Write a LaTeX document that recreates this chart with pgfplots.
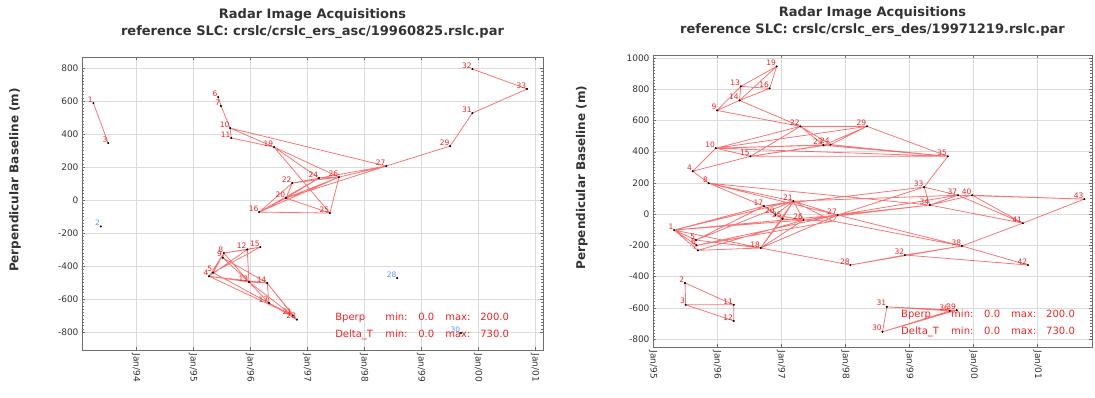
\documentclass[border=0pt]{standalone}
\usepackage{fontspec}
\setmainfont{DejaVu Sans}
\usepackage{pgfplots}
\pgfplotsset{compat=1.18}
\usepackage{pgfplotstable}

\definecolor{edgered}{RGB}{245,60,60}
\definecolor{labred}{RGB}{235,35,35}
\definecolor{axgray}{RGB}{110,110,110}
\definecolor{labblue}{RGB}{90,150,230}

\tikzset{info/.style={anchor=west, text=labred, font=\fontsize{10}{11}\selectfont, inner sep=0pt}}
\pgfplotsset{
  radar/.style={
    scale only axis,
    anchor=south west,
    axis line style={axgray},
    tick style={axgray},
    grid=major,
    grid style={gray!28, line width=0.5pt},
    minor x tick num=3,
    minor y tick num=9,
    tick align=inside,
    major tick length=3pt, minor tick length=1.6pt,
    ticklabel style={font=\fontsize{9}{10}\selectfont, text=black!80},
    /pgf/number format/assume math mode=true,
    /pgf/number format/1000 sep={},
    xticklabel style={rotate=-90, anchor=west},
    ylabel={Perpendicular Baseline (m)},
    ylabel style={font=\fontsize{12}{13}\selectfont\bfseries, text=black!80, anchor=center},
    title style={font=\fontsize{13}{16.5}\selectfont\bfseries, text=black!80, align=center, at={(0.5,1)}, anchor=south, yshift=9pt},
    unbounded coords=jump,
  },
  edge/.style={edgered, opacity=0.7, line width=0.8pt, forget plot},
  pts/.style={only marks, mark=*, mark size=0.8pt, black, forget plot,
    nodes near coords, point meta=explicit symbolic,
    nodes near coords style={text=labred, font=\fontsize{7.5}{8}\selectfont, anchor=south east, inner sep=0.6pt}},
  bpts/.style={pts, nodes near coords style={text=labblue}},
}
\newcommand{\infoline}[2]{\makebox[50pt][l]{#1}\makebox[33pt][l]{min:}\makebox[27pt][l]{0.0}\makebox[35pt][l]{max:}#2}

\begin{document}
\begin{tikzpicture}
\useasboundingbox (0pt,0pt) rectangle (1095pt,398pt);
% ---------------- left panel ----------------
\begin{axis}[radar, at={(82pt,48pt)}, width=461pt, height=293pt,
  xmin=1993.05, xmax=2001.14, ymin=-909, ymax=867,
  xtick={1994,1995,...,2001},
  xticklabels={Jan/94,Jan/95,Jan/96,Jan/97,Jan/98,Jan/99,Jan/00,Jan/01},
  ytick={-800,-600,...,800},
  ylabel style={at={(rel axis cs:-0.145,0.58)}},
  title={Radar Image Acquisitions\\reference SLC: crslc/crslc\_ers\_asc/19960825.rslc.par}]
\addplot[edge] coordinates {
(1993.25,588)(1993.51,345)(0,nan)
(1995.44,624)(1995.49,570)(1995.65,436)(1995.67,376)(0,nan)
(1995.65,436)(1996.42,321)(0,nan)
(1995.67,376)(1996.42,321)(0,nan)
(1995.65,436)(1998.39,206)(0,nan)
(1996.42,321)(1997.40,-79)(0,nan)
(1996.42,321)(1997.56,139)(0,nan)
(1996.42,321)(1997.21,133)(0,nan)
(1996.16,-73)(1996.74,103)(0,nan)
(1996.16,-73)(1996.63,12)(0,nan)
(1996.16,-73)(1997.21,133)(0,nan)
(1996.16,-73)(1997.56,139)(0,nan)
(1996.16,-73)(1997.40,-79)(0,nan)
(1996.63,12)(1996.74,103)(0,nan)
(1996.63,12)(1997.21,133)(0,nan)
(1996.63,12)(1997.56,139)(0,nan)
(1996.63,12)(1997.40,-79)(0,nan)
(1996.63,12)(1998.39,206)(0,nan)
(1996.74,103)(1997.21,133)(0,nan)
(1996.74,103)(1997.56,139)(0,nan)
(1997.21,133)(1997.56,139)(0,nan)
(1997.21,133)(1998.39,206)(0,nan)
(1997.56,139)(1998.39,206)(0,nan)
(1997.40,-79)(1997.56,139)(0,nan)
(1998.39,206)(1999.51,327)(1999.90,527)(2000.86,673)(1999.90,794)(0,nan)
(1995.28,-462)(1995.35,-440)(0,nan)
(1995.28,-462)(1995.54,-321)(0,nan)
(1995.35,-440)(1995.54,-321)(0,nan)
(1995.28,-462)(1995.95,-300)(0,nan)
(1995.35,-440)(1996.18,-285)(0,nan)
(1995.54,-321)(1995.95,-300)(0,nan)
(1995.54,-321)(1996.18,-285)(0,nan)
(1995.95,-300)(1996.18,-285)(0,nan)
(1995.28,-462)(1995.98,-497)(0,nan)
(1995.28,-462)(1996.30,-503)(0,nan)
(1995.35,-440)(1996.33,-624)(0,nan)
(1995.28,-462)(1996.75,-700)(0,nan)
(1995.54,-321)(1995.98,-497)(0,nan)
(1995.52,-350)(1996.30,-503)(0,nan)
(1995.98,-497)(1996.30,-503)(0,nan)
(1995.98,-497)(1996.33,-624)(0,nan)
(1995.98,-497)(1996.75,-700)(0,nan)
(1995.95,-300)(1995.98,-497)(0,nan)
(1996.30,-503)(1996.33,-624)(0,nan)
(1996.30,-503)(1996.75,-700)(0,nan)
(1996.33,-624)(1996.75,-700)(0,nan)
(1996.33,-624)(1996.82,-725)(0,nan)
(1996.75,-700)(1996.82,-725)(0,nan)
(1996.30,-503)(1996.82,-725)(0,nan)
(1995.52,-350)(1995.98,-497)(0,nan)
(1995.54,-321)(1995.52,-350)(0,nan)
};
\addplot[pts] table[meta=lab] {
x y lab
1993.25 588 1
1993.51 345 3
1995.44 624 6
1995.49 570 7
1995.65 436 10
1995.67 376 11
1996.42 321 19
1996.16 -73 16
1996.63 12 20
1996.74 103 22
1997.21 133 24
1997.56 139 26
1997.40 -79 25
1998.39 206 27
1999.51 327 29
1999.90 527 31
1999.90 794 32
2000.86 673 33
1995.28 -462 4
1995.35 -440 5
1995.54 -321 8
1995.52 -350 9
1995.95 -300 12
1996.18 -285 15
1995.98 -497 13
1996.30 -503 14
1996.33 -624 17
1996.75 -700 21
1996.82 -725 23
};
\addplot[bpts] table[meta=lab] {
x y lab
1993.38 -160 2
1998.58 -473 28
1999.70 -806 30
};
\node[info] at (rel axis cs:0.549,0.109) {\infoline{Bperp}{200.0}};
\node[info] at (rel axis cs:0.549,0.051) {\infoline{Delta\_T}{730.0}};
\end{axis}
% ---------------- right panel ----------------
\begin{axis}[radar, at={(653pt,51pt)}, width=439pt, height=292pt,
  xmin=1995.0, xmax=2001.85, ymin=-851, ymax=1019,
  xtick={1995,1996,...,2001},
  xticklabels={Jan/95,Jan/96,Jan/97,Jan/98,Jan/99,Jan/00,Jan/01},
  ytick={-800,-600,...,1000},
  ylabel style={at={(rel axis cs:-0.162,0.58)}},
  title={Radar Image Acquisitions\\reference SLC: crslc/crslc\_ers\_des/19971219.rslc.par}]
\addplot[edge] coordinates {
(1996.00,664)(1996.37,818)(0,nan)
(1996.00,664)(1996.35,728)(0,nan)
(1996.37,818)(1996.35,728)(0,nan)
(1996.37,818)(1996.82,805)(0,nan)
(1996.37,818)(1996.93,946)(0,nan)
(1996.35,728)(1996.82,805)(0,nan)
(1996.35,728)(1996.93,946)(0,nan)
(1996.82,805)(1996.93,946)(0,nan)
(1996.00,664)(1997.30,562)(0,nan)
(1996.35,728)(1997.30,562)(0,nan)
(1995.98,422)(1997.30,562)(0,nan)
(1995.98,422)(1997.66,441)(0,nan)
(1995.98,422)(1997.77,445)(0,nan)
(1995.98,422)(1998.34,562)(0,nan)
(1995.98,422)(1999.60,370)(0,nan)
(1995.98,422)(1996.52,370)(0,nan)
(1996.52,370)(1997.30,562)(0,nan)
(1996.52,370)(1997.66,441)(0,nan)
(1996.52,370)(1997.77,445)(0,nan)
(1997.30,562)(1997.66,441)(0,nan)
(1997.30,562)(1997.77,445)(0,nan)
(1997.30,562)(1998.34,562)(0,nan)
(1997.66,441)(1998.34,562)(0,nan)
(1997.77,445)(1998.34,562)(0,nan)
(1998.34,562)(1999.60,370)(0,nan)
(1997.66,441)(1999.60,370)(0,nan)
(1997.77,445)(1999.60,370)(0,nan)
(1996.52,370)(1999.60,370)(0,nan)
(1995.62,275)(1995.98,422)(0,nan)
(1995.62,275)(1996.52,370)(0,nan)
(1995.62,275)(1995.87,198)(0,nan)
(1995.87,198)(1997.19,83)(0,nan)
(1995.87,198)(1997.88,-6)(0,nan)
(1995.87,198)(1996.73,51)(0,nan)
(1995.87,198)(1999.32,58)(0,nan)
(1995.33,-102)(1996.73,51)(0,nan)
(1995.33,-102)(1997.19,83)(0,nan)
(1995.33,-102)(1997.88,-6)(0,nan)
(1995.33,-102)(1997.35,-38)(0,nan)
(1995.33,-102)(1995.67,-166)(0,nan)
(1995.33,-102)(1995.68,-200)(0,nan)
(1995.33,-102)(1995.70,-232)(0,nan)
(1995.33,-102)(1996.68,-217)(0,nan)
(1995.67,-166)(1996.73,51)(0,nan)
(1995.67,-166)(1997.19,83)(0,nan)
(1995.68,-200)(1997.88,-6)(0,nan)
(1995.70,-232)(1996.68,-217)(0,nan)
(1995.67,-166)(1996.68,-217)(0,nan)
(1995.70,-232)(1997.35,-38)(0,nan)
(1995.68,-200)(1997.81,-45)(0,nan)
(1996.68,-217)(1997.02,-30)(0,nan)
(1996.68,-217)(1997.35,-38)(0,nan)
(1996.68,-217)(1997.88,-6)(0,nan)
(1996.68,-217)(1997.19,83)(0,nan)
(1996.73,51)(1997.19,83)(0,nan)
(1996.73,51)(1997.02,-30)(0,nan)
(1997.19,83)(1997.02,-30)(0,nan)
(1997.19,83)(1997.35,-38)(0,nan)
(1997.19,83)(1997.88,-6)(0,nan)
(1997.02,-30)(1997.35,-38)(0,nan)
(1997.35,-38)(1997.88,-6)(0,nan)
(1996.91,-5)(1996.73,51)(0,nan)
(1996.91,-5)(1997.19,83)(0,nan)
(1996.91,-5)(1997.35,-38)(0,nan)
(1997.35,-38)(1997.81,-45)(0,nan)
(1997.88,-6)(1997.81,-45)(0,nan)
(1997.19,83)(1997.81,-45)(0,nan)
(1996.68,-217)(1998.08,-326)(0,nan)
(1998.08,-326)(1999.82,-204)(0,nan)
(1998.93,-262)(1999.82,-204)(0,nan)
(1998.08,-326)(1998.93,-262)(0,nan)
(1999.82,-204)(2000.77,-58)(0,nan)
(1999.82,-204)(2000.85,-326)(0,nan)
(1998.93,-262)(2000.85,-326)(0,nan)
(1997.88,-6)(1999.82,-204)(0,nan)
(1997.81,-45)(1999.82,-204)(0,nan)
(2000.77,-58)(2001.73,96)(0,nan)
(1999.76,121)(2000.77,-58)(0,nan)
(1999.98,121)(2000.77,-58)(0,nan)
(1999.32,58)(2000.77,-58)(0,nan)
(1999.76,121)(1999.98,121)(0,nan)
(1999.98,121)(2001.73,96)(0,nan)
(1999.76,121)(2001.73,96)(0,nan)
(1999.23,173)(1999.76,121)(0,nan)
(1999.23,173)(1999.32,58)(0,nan)
(1999.32,58)(1999.76,121)(0,nan)
(1999.32,58)(1999.98,121)(0,nan)
(1999.23,173)(1999.60,370)(0,nan)
(1997.88,-6)(1999.23,173)(0,nan)
(1997.88,-6)(1999.32,58)(0,nan)
(1997.88,-6)(1999.76,121)(0,nan)
(1997.19,83)(1999.76,121)(0,nan)
(1996.73,51)(1999.23,173)(0,nan)
(1997.35,-38)(1999.32,58)(0,nan)
(1995.50,-441)(1995.51,-581)(0,nan)
(1995.50,-441)(1996.26,-581)(0,nan)
(1995.51,-581)(1996.26,-581)(0,nan)
(1995.51,-581)(1996.26,-684)(0,nan)
(1996.26,-581)(1996.26,-684)(0,nan)
(1998.58,-754)(1998.65,-594)(0,nan)
(1998.65,-594)(1999.63,-620)(0,nan)
(1998.65,-594)(1999.74,-615)(0,nan)
(1998.58,-754)(1999.63,-620)(0,nan)
(1998.58,-754)(1999.74,-615)(0,nan)
(1999.63,-620)(1999.74,-615)(0,nan)
};
\addplot[pts] table[meta=lab] {
x y lab
1995.33 -102 1
1995.50 -441 2
1995.51 -581 3
1995.62 275 4
1995.67 -166 5
1995.68 -200 6
1995.70 -232 7
1995.87 198 8
1996.00 664 9
1995.98 422 10
1996.26 -581 11
1996.26 -684 12
1996.37 818 13
1996.35 728 14
1996.52 370 15
1996.82 805 16
1996.73 51 17
1996.68 -217 18
1996.93 946 19
1996.91 -5 20
1997.19 83 21
1997.30 562 22
1997.66 441 23
1997.77 445 24
1997.02 -30 25
1997.35 -38 26
1997.88 -6 27
1998.08 -326 28
1998.34 562 29
1998.58 -754 30
1998.65 -594 31
1998.93 -262 32
1999.23 173 33
1999.32 58 34
1999.60 370 35
1999.63 -620 36
1999.76 121 37
1999.82 -204 38
1999.74 -615 39
1999.98 121 40
2000.77 -58 41
2000.85 -326 42
2001.73 96 43
};
\node[info] at (rel axis cs:0.565,0.110) {\infoline{Bperp}{200.0}};
\node[info] at (rel axis cs:0.565,0.052) {\infoline{Delta\_T}{730.0}};
\end{axis}
\end{tikzpicture}
\end{document}
